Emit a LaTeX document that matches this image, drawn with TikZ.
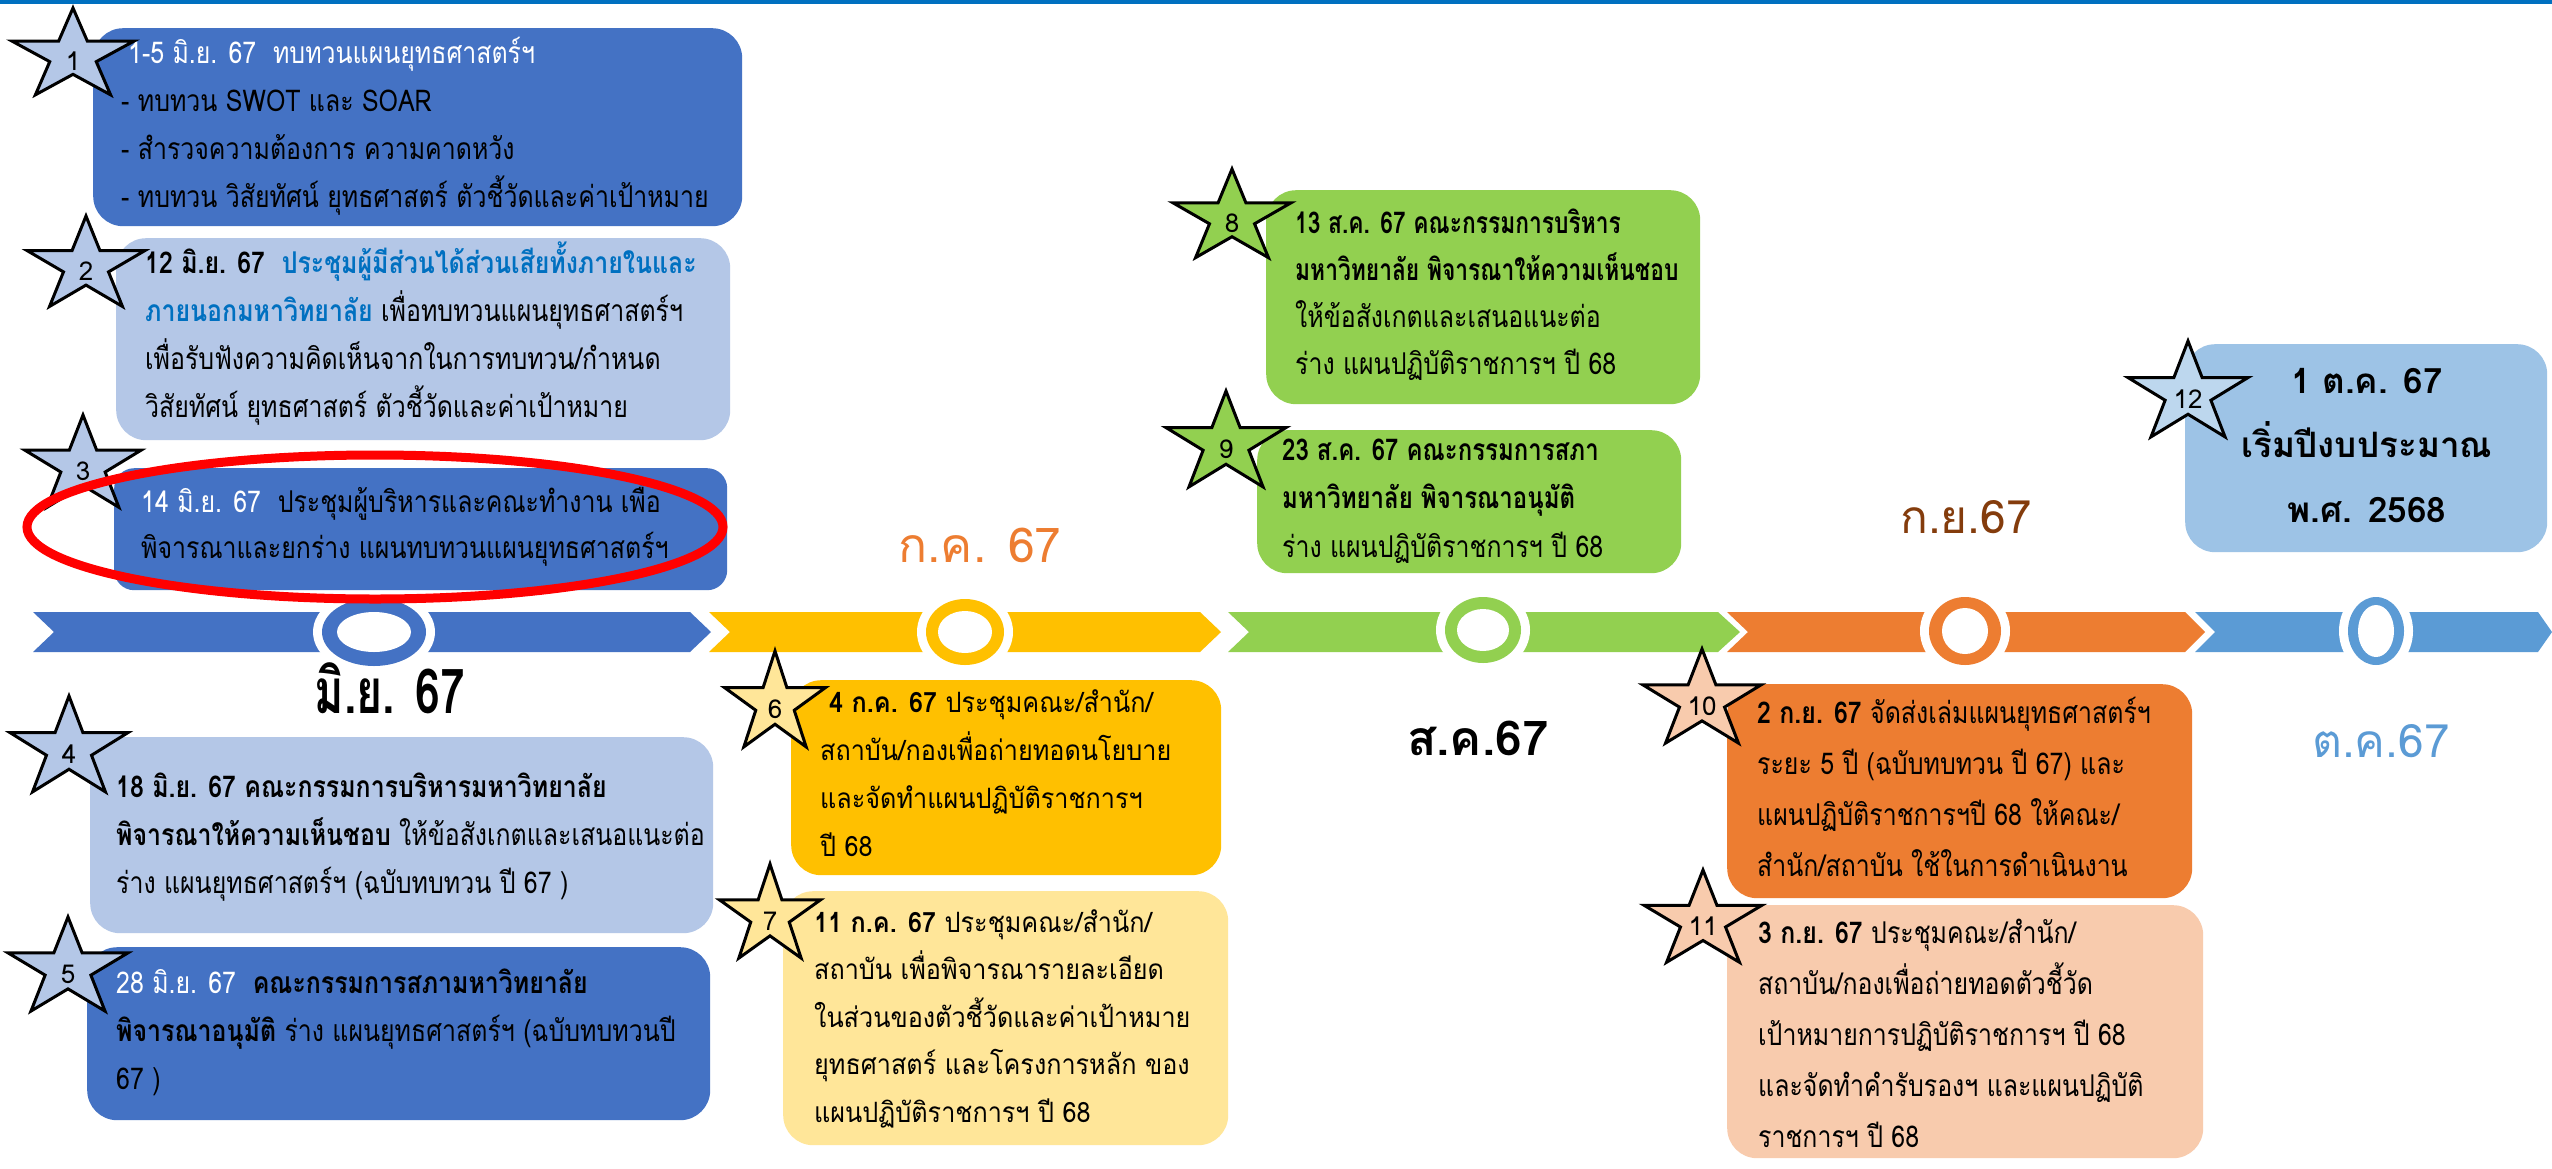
\documentclass[tikz,border=0pt]{standalone}
\usepackage{fontspec}
\setmainfont[Script=Thai, FakeStretch=0.83]{Loma}
\newfontfamily\fplain[Script=Thai]{Loma}
\newfontfamily\fwide[Script=Thai, FakeStretch=0.9]{Loma}
\newfontfamily\fnarrow[Script=Thai, FakeStretch=0.76]{Loma}
\newfontfamily\fsemi[Script=Thai, FakeStretch=0.8]{Loma}
\newfontfamily\fmonth[Script=Thai, FakeStretch=0.72]{Loma}
\definecolor{topblue}{HTML}{0070C0}
\definecolor{cblue}{HTML}{4472C4}
\definecolor{clight}{HTML}{B4C7E7}
\definecolor{tblue}{HTML}{0070C0}
\definecolor{cyellow}{HTML}{FFC000}
\definecolor{cyellowl}{HTML}{FFE699}
\definecolor{cgreen}{HTML}{92D050}
\definecolor{corange}{HTML}{ED7D31}
\definecolor{corangel}{HTML}{F8CBAD}
\definecolor{cboxtw}{HTML}{9DC3E6}
\definecolor{cstartw}{HTML}{BDD7EE}
\definecolor{cband}{HTML}{5B9BD5}
\definecolor{cbrown}{HTML}{843C0C}
\tikzset{
  box/.style={rounded corners=30pt, inner sep=0pt, anchor=north west, draw=none},
  starline/.style={draw=black, line width=3pt, line join=miter},
  starnum/.style={inner sep=0pt, font=\fplain\fontsize{26}{30}\selectfont},
  txt/.style={inner sep=0pt, anchor=base west, font=\fontsize{30}{#1}\selectfont},
  txt/.default=48,
  wtxt/.style={inner sep=0pt, anchor=base west, font=\fwide\fontsize{28}{#1}\selectfont},
  wtxt/.default=48,
  month/.style={inner sep=0pt, anchor=base},
}
\newcommand{\boxlines}[2][l]{\begin{tabular}[t]{@{}#1@{}}#2\end{tabular}}
\newcommand{\drawstar}[7]{%
  \filldraw[starline, fill=#6] ({#2},{#3-#5})
    \foreach \ang/\rat in {126/0.382,162/1,198/0.382,234/1,270/0.382,306/1,342/0.382,18/1,54/0.382}
      { -- ({#2+\rat*#4*cos(\ang)},{#3-\rat*#5*sin(\ang)}) } -- cycle;
  \node[starnum] (#1) at (#2,#3+5) {#7};
}
\newcommand{\ring}[7]{%
  \fill[white] (#2,#3) ellipse [x radius=#4+9, y radius=#5+9];
  \fill[#1] (#2,#3) ellipse [x radius=#4, y radius=#5];
  \fill[white] (#2,#3) ellipse [x radius=#6, y radius=#7];
}
\begin{document}
\begin{tikzpicture}[x=1pt,y=-1pt]
\useasboundingbox (0,0) rectangle (2552,1168);
\fill[white] (0,0) rectangle (2552,1168);
\fill[topblue] (0,0) rectangle (2552,3.5);

% timeline chevrons
\fill[cblue] (33,612) -- (690,612) -- (711,632) -- (690,652) -- (33,652) -- (54,632) -- cycle;
\fill[cyellow] (709,612) -- (1200,612) -- (1221,632) -- (1200,652) -- (709,652) -- (730,632) -- cycle;
\fill[cgreen] (1228,612) -- (1718,612) -- (1740,632) -- (1718,652) -- (1228,652) -- (1249,632) -- cycle;
\fill[corange] (1727,612) -- (2185,612) -- (2205,632) -- (2185,652) -- (1727,652) -- (1748,632) -- cycle;
\fill[cband] (2195,612) -- (2538,612) -- (2552,632) -- (2538,652) -- (2195,652) -- (2215,632) -- cycle;

% rings
\ring{cblue}{374}{632}{52}{34}{37}{20}
\ring{cyellow}{965}{632}{39}{33}{27}{21}
\ring{cgreen}{1483}{630}{38}{33}{26}{21}
\ring{corange}{1965}{631}{36}{34}{23}{23}
\ring{cband}{2376}{631}{28}{34}{18}{26}

% boxes
\node[box, fill=cblue, minimum width=649pt, minimum height=198pt] (b1) at (93,28) {};
\node[box, fill=clight, minimum width=614pt, minimum height=202pt] (b2) at (116,238) {};
\node[box, fill=cblue, rounded corners=20pt, minimum width=613pt, minimum height=122pt] (b3) at (114,468) {};
\node[box, fill=clight, minimum width=623pt, minimum height=196pt] (b4) at (90,737) {};
\node[box, fill=cblue, minimum width=623pt, minimum height=173pt] (b5) at (87,947) {};
\node[box, fill=cyellow, minimum width=430pt, minimum height=195pt] (b6) at (791,680) {};
\node[box, fill=cyellowl, minimum width=445pt, minimum height=254pt] (b7) at (783,891) {};
\node[box, fill=cgreen, minimum width=434pt, minimum height=214pt] (b8) at (1266,190) {};
\node[box, fill=cgreen, minimum width=424pt, minimum height=143pt] (b9) at (1257,430) {};
\node[box, fill=corange, minimum width=465pt, minimum height=214pt] (b10) at (1727,684) {};
\node[box, fill=corangel, minimum width=476pt, minimum height=253pt] (b11) at (1727,905) {};
\node[box, fill=cboxtw, minimum width=362pt, minimum height=208pt] (b12) at (2185,344) {};

% box texts
\node[txt] (t1) at (121,63) {\boxlines{\hspace{7pt}{\color{white}1-5 มิ.ย. 67\ \ ทบทวนแผนยุทธศาสตร์ฯ}\\
- ทบทวน SWOT และ SOAR\\
- สำรวจความต้องการ ความคาดหวัง\\
- ทบทวน วิสัยทัศน์ ยุทธศาสตร์ ตัวชี้วัดและค่าเป้าหมาย}};
\node[txt] (t2) at (145,273) {\boxlines{\textbf{12 มิ.ย. 67\ \ \color{tblue}ประชุมผู้มีส่วนได้ส่วนเสียทั้งภายในและ}\\
\textbf{\color{tblue}ภายนอกมหาวิทยาลัย} เพื่อทบทวนแผนยุทธศาสตร์ฯ\\
เพื่อรับฟังความคิดเห็นจากในการทบทวน/กำหนด\\
วิสัยทัศน์ ยุทธศาสตร์ ตัวชี้วัดและค่าเป้าหมาย}};
\node[txt=46] (t3) at (141,512) {\boxlines{{\color{white}14 มิ.ย. 67}\ \ ประชุมผู้บริหารและคณะทำงาน เพื่อ\\
พิจารณาและยกร่าง แผนทบทวนแผนยุทธศาสตร์ฯ}};
\node[txt] (t4) at (116,797) {\boxlines{\textbf{18 มิ.ย. 67 คณะกรรมการบริหารมหาวิทยาลัย}\\
\textbf{พิจารณาให้ความเห็นชอบ} ให้ข้อสังเกตและเสนอแนะต่อ\\
ร่าง แผนยุทธศาสตร์ฯ (ฉบับทบทวน ปี 67 )}};
\node[txt] (t5) at (116,993) {\boxlines{{\color{white}28 มิ.ย. 67}\ \ \textbf{คณะกรรมการสภามหาวิทยาลัย}\\
\textbf{พิจารณาอนุมัติ} ร่าง แผนยุทธศาสตร์ฯ (ฉบับทบทวนปี\\
67 )}};
\node[wtxt] (t6) at (820,712) {\boxlines{\hspace{9pt}\textbf{4 ก.ค. 67} ประชุมคณะ/สำนัก/\\
สถาบัน/กองเพื่อถ่ายทอดนโยบาย\\
และจัดทำแผนปฏิบัติราชการฯ\\
ปี 68}};
\node[wtxt=47.5] (t7) at (814,932) {\boxlines{\textbf{11 ก.ค. 67} ประชุมคณะ/สำนัก/\\
สถาบัน เพื่อพิจารณารายละเอียด\\
ในส่วนของตัวชี้วัดและค่าเป้าหมาย\\
ยุทธศาสตร์ และโครงการหลัก ของ\\
แผนปฏิบัติราชการฯ ปี 68}};
\node[txt=47] (t8) at (1295,233) {\boxlines{{\fnarrow\bfseries 13 ส.ค. 67 คณะกรรมการบริหาร}\\
{\fnarrow\bfseries มหาวิทยาลัย พิจารณาให้ความเห็นชอบ}\\
ให้ข้อสังเกตและเสนอแนะต่อ\\
ร่าง แผนปฏิบัติราชการฯ ปี 68}};
\node[txt=48.5] (t9) at (1282,460) {\boxlines{{\fsemi\bfseries 23 ส.ค. 67 คณะกรรมการสภา}\\
{\fsemi\bfseries มหาวิทยาลัย พิจารณาอนุมัติ}\\
ร่าง แผนปฏิบัติราชการฯ ปี 68}};
\node[txt=51] (t10) at (1757,723) {\boxlines{\textbf{2 ก.ย. 67} จัดส่งเล่มแผนยุทธศาสตร์ฯ\\
ระยะ 5 ปี (ฉบับทบทวน ปี 67) และ\\
แผนปฏิบัติราชการฯปี 68 ให้คณะ/\\
สำนัก/สถาบัน ใช้ในการดำเนินงาน}};
\node[txt=51] (t11) at (1758,943) {\boxlines{\textbf{3 ก.ย. 67} ประชุมคณะ/สำนัก/\\
สถาบัน/กองเพื่อถ่ายทอดตัวชี้วัด\\
เป้าหมายการปฏิบัติราชการฯ ปี 68\\
และจัดทำคำรับรองฯ และแผนปฏิบัติ\\
ราชการฯ ปี 68}};
\node[inner sep=0pt, anchor=base, font=\fplain\fontsize{35}{64.5}\selectfont\bfseries] (t12) at (2367,393) {\boxlines[c]{1 ต.ค. 67\\
เริ่มปีงบประมาณ\\
พ.ศ. 2568}};

% stars
\drawstar{s1}{73}{56}{64}{48}{clight}{1}
\drawstar{s2}{86}{266}{62}{50}{clight}{2}
\drawstar{s3}{83}{466}{61}{51}{clight}{3}
\drawstar{s4}{69}{749}{62}{53}{clight}{4}
\drawstar{s5}{68}{969}{63}{52}{clight}{5}
\drawstar{s6}{775}{704}{53}{53}{cyellowl}{6}
\drawstar{s7}{770}{916}{53}{52}{cyellowl}{7}
\drawstar{s8}{1232}{218}{62}{49}{cgreen}{8}
\drawstar{s9}{1226}{444}{63}{53}{cgreen}{9}
\drawstar{s10}{1702}{701}{62}{52}{corangel}{10}
\drawstar{s11}{1703}{921}{62}{51}{corangel}{11}
\drawstar{s12}{2188}{394}{63}{53}{cstartw}{12}

% month labels
\node[month, font=\fmonth\fontsize{62}{70}\selectfont\bfseries] (m6) at (390,713) {มิ.ย. 67};
\node[month, text=corange, font=\fplain\fontsize{48}{56}\selectfont] (m7) at (980,562) {ก.ค. 67};
\node[month, font=\fplain\fontsize{48}{56}\selectfont\bfseries] (m8) at (1478,755) {ส.ค.67};
\node[month, text=cbrown, font=\fplain\fontsize{46}{56}\selectfont] (m9) at (1966,533) {ก.ย.67};
\node[month, text=cband, font=\fplain\fontsize{46}{56}\selectfont] (m10) at (2381,757) {ต.ค.67};

% red highlight ellipse
\draw[red, line width=9pt] (375,527) ellipse [x radius=348, y radius=72];
\end{tikzpicture}
\end{document}
